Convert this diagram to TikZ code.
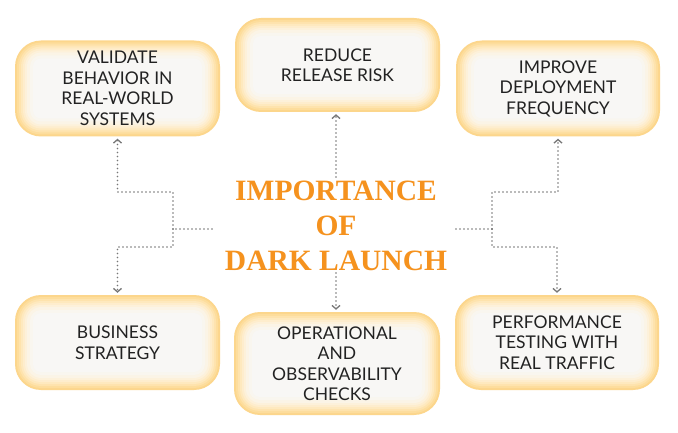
\documentclass[tikz,border=0pt]{standalone}
\usepackage{fontspec}
\usetikzlibrary{arrows.meta,calc}
\newfontfamily\boxfont{Lato}
\newfontfamily\titlefont{Liberation Serif}
\definecolor{g0}{HTML}{FCD68C}
\definecolor{g1}{HTML}{FDDD9C}
\definecolor{g2}{HTML}{FEE3AD}
\definecolor{g3}{HTML}{FEE9BE}
\definecolor{g4}{HTML}{FEEDCD}
\definecolor{g5}{HTML}{FDF1DA}
\definecolor{g6}{HTML}{FBF4E6}
\definecolor{g7}{HTML}{F9F6EF}
\definecolor{g8}{HTML}{F8F7F5}
\definecolor{textc}{HTML}{222222}
\definecolor{titlec}{HTML}{F5921E}
\definecolor{linec}{HTML}{777777}
\tikzset{
  glowbox/.style={rounded corners=26pt, minimum width=205pt, minimum height=96pt,
    align=center, text=textc, inner sep=0pt,
    font=\boxfont\fontsize{17.5}{20.5}\selectfont, fill=g0,
    path picture={
      \foreach \d/\c in {2/g1,4/g2,6/g3,8/g4,10/g5,12/g6,15/g7,18/g8}{
        \pgfmathsetmacro\rr{26-\d}
        \fill[\c, rounded corners=\rr pt]
          ([xshift=\d pt,yshift=-\d pt]path picture bounding box.north west)
          rectangle
          ([xshift=-\d pt,yshift=\d pt]path picture bounding box.south east);
      }
    }},
  dotline/.style={draw=linec, line width=1.6pt, line cap=round, dash pattern=on 0pt off 4pt},
  conn/.style={dotline, -{Straight Barb[length=3.5pt,width=8pt,line width=1.3pt]}, shorten >=2pt},
  titlenode/.style={align=center, text=titlec, inner sep=0pt,
    font=\titlefont\bfseries\fontsize{29.5}{35}\selectfont}
}
\begin{document}
\begin{tikzpicture}[x=1pt,y=-1pt]
\fill[white] (0,0) rectangle (678,433);
\useasboundingbox (0,0) rectangle (678,433);

\node[glowbox] (TL) at (117.5,88.5) {VALIDATE\\BEHAVIOR IN\\REAL-WORLD\\SYSTEMS};
\node[glowbox, minimum height=94pt] (TM) at (337.5,65) {REDUCE\\RELEASE RISK};
\node[glowbox, minimum width=204pt] (TR) at (558,88.5) {IMPROVE\\DEPLOYMENT\\FREQUENCY};
\node[glowbox, minimum height=95pt] (BL) at (117.5,342.5) {BUSINESS\\STRATEGY};
\node[glowbox, minimum width=206pt, minimum height=103pt] (BM) at (337,363.5) {OPERATIONAL\\AND\\OBSERVABILITY\\CHECKS};
\node[glowbox, minimum width=204pt, minimum height=95pt] (BR) at (557,342.5) {PERFORMANCE\\TESTING WITH\\REAL TRAFFIC};

\node[titlenode] (T) at (336,226) {IMPORTANCE\\OF\\DARK LAUNCH};

\coordinate (ls) at (212,229);
\coordinate (lj) at (173,229);
\coordinate (rs) at (456,229);
\coordinate (rj) at (492,229);
\coordinate (ts) at (336,177);
\coordinate (bs) at (336,273);

\draw[dotline] (ls) -- (lj);
\draw[dotline] (rs) -- (rj);
\draw[conn] (lj) -- ++(0,-37) -| (TL.south);
\draw[conn] (lj) -- ++(0,18) -| (BL.north);
\draw[conn] (rj) -- ++(0,-37) -| (TR.south);
\draw[conn] (rj) -- ++(0,18) -| (BR.north);
\draw[conn] (ts) -- (ts |- TM.south);
\draw[conn] (bs) -- (bs |- BM.north);
\end{tikzpicture}
\end{document}
